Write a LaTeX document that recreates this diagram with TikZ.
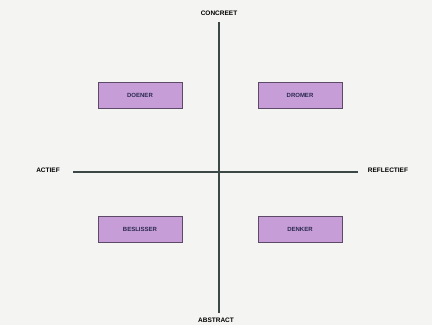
\documentclass[tikz,border=0pt]{standalone}
\usepackage{fontspec}
\setmainfont{Liberation Sans}
\definecolor{bg}{HTML}{F4F4F3}
\definecolor{axis}{HTML}{3C4846}
\definecolor{boxfill}{HTML}{C69DD7}
\definecolor{boxdraw}{HTML}{5C4A68}
\definecolor{boxtext}{HTML}{2A2850}
\begin{document}
\begin{tikzpicture}[x=1pt,y=-1pt,
  axisline/.style={draw=axis,line width=1.3pt},
  rolebox/.style={draw=boxdraw,fill=boxfill,line width=1pt,minimum width=84pt,minimum height=26pt,inner sep=0pt,font=\fontsize{6}{7}\selectfont\bfseries,text=boxtext},
  axislabel/.style={font=\fontsize{6.5}{7}\selectfont\bfseries,text=black,inner sep=1pt}]
\useasboundingbox (0,0) rectangle (432,325);
\fill[bg] (0,0) rectangle (432,325);
\coordinate (top) at (219,22);
\coordinate (bot) at (219,313);
\coordinate (lft) at (73,172);
\coordinate (rgt) at (358,172);
\draw[axisline] (top) -- (bot);
\draw[axisline] (lft) -- (rgt);
\node[axislabel] (concreet) at (219,13) {CONCREET};
\node[axislabel] (abstract) at (216,320) {ABSTRACT};
\node[axislabel] (actief) at (48,170) {ACTIEF};
\node[axislabel] (reflectief) at (388,170) {REFLECTIEF};
\node[rolebox] (doener) at (140,95) {DOENER};
\node[rolebox] (dromer) at (300,95) {DROMER};
\node[rolebox] (beslisser) at (140,229) {BESLISSER};
\node[rolebox] (denker) at (300,229) {DENKER};
\end{tikzpicture}
\end{document}
